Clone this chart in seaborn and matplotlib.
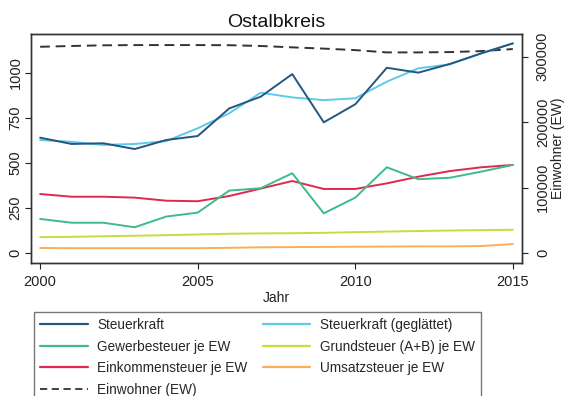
import numpy as np
import pandas as pd
import matplotlib
matplotlib.use("Agg")
import matplotlib.pyplot as plt
from matplotlib.lines import Line2D
import seaborn as sns

years = list(range(2000, 2016))

steuerkraft = [640, 605, 609, 577, 627, 649, 802, 867, 992, 725, 825, 1027, 1000, 1048, 1107, 1162]
steuerkraft_glatt = [627, 617, 600, 605, 621, 692, 775, 889, 863, 848, 858, 950, 1024, 1046, 1107, 1162]
gewerbesteuer = [190, 169, 169, 144, 203, 225, 347, 360, 443, 221, 308, 476, 410, 418, 452, 489]
grundsteuer = [89, 91, 94, 97, 100, 104, 108, 110, 111, 113, 117, 120, 123, 126, 128, 130]
einkommensteuer = [328, 313, 313, 308, 291, 288, 317, 358, 400, 356, 356, 387, 424, 455, 476, 489]
umsatzsteuer = [29, 28, 28, 28, 28, 28, 30, 33, 34, 35, 36, 37, 38, 38, 40, 51]
einwohner = [315300, 316500, 317500, 317900, 317900, 317900, 317700, 316500,
             314400, 312500, 310200, 306700, 306700, 307200, 308700, 311800]

series_names = ["Steuerkraft", "Steuerkraft (geglättet)", "Gewerbesteuer je EW",
                "Grundsteuer (A+B) je EW", "Einkommensteuer je EW", "Umsatzsteuer je EW"]
series_values = [steuerkraft, steuerkraft_glatt, gewerbesteuer,
                 grundsteuer, einkommensteuer, umsatzsteuer]
colors = ["#25567f", "#5ccbea", "#3dbb8e", "#c3df3e", "#e0284f", "#ffab5c"]

# draw order: bottom series first so the tax-power lines sit on top
draw_order = [5, 3, 4, 2, 1, 0]

df = pd.DataFrame({
    "Jahr": years * len(series_names),
    "Wert": sum(series_values, []),
    "Reihe": sum([[n] * len(years) for n in series_names], []),
})
ew = pd.DataFrame({"Jahr": years, "Einwohner": einwohner})

sns.set_theme(style="white")
plt.rcParams["font.family"] = ["Liberation Sans", "DejaVu Sans"]

fig = plt.figure(figsize=(5.64, 3.96), dpi=100)
ax = fig.add_axes([31 / 564, 1 - 263 / 396, (522 - 31) / 564, (263 - 34) / 396])
ax2 = ax.twinx()

sns.lineplot(data=ew, x="Jahr", y="Einwohner", ax=ax2, color="#333333",
             linewidth=1.4, linestyle=(0, (5, 3)), legend=False)

for i in draw_order:
    sub = df[df["Reihe"] == series_names[i]]
    sns.lineplot(data=sub, x="Jahr", y="Wert", ax=ax, color=colors[i],
                 linewidth=1.4, legend=False)

# twin axis drawn behind the main one so the colored lines stay on top
ax.set_zorder(ax2.get_zorder() + 1)
ax.patch.set_visible(False)

ax.set_xlim(1999.71, 2015.29)
ax.set_ylim(-54, 1214)
ax2.set_ylim(-14800, 334800)

ax.set_xticks([2000, 2005, 2010, 2015])
ax.set_yticks([0, 250, 500, 750, 1000])
ax2.set_yticks([0, 100000, 200000, 300000])
ax2.set_yticklabels(["0", "100000", "200000", "300000"])

for a in (ax, ax2):
    for s in a.spines.values():
        s.set_color("#333333")
        s.set_linewidth(1.0)
    a.tick_params(colors="#222222", labelsize=10.5, length=4, width=0.8, direction="out")

ax.tick_params(axis="x", bottom=True, pad=5)
ax.tick_params(axis="y", left=True, pad=2)
ax2.tick_params(axis="y", right=True, pad=6)
for lbl in ax.get_yticklabels():
    lbl.set_rotation(90)
    lbl.set_va("center")
for lbl in ax2.get_yticklabels():
    lbl.set_rotation(90)
    lbl.set_va("center")

ax.set_xlabel("Jahr", fontsize=10, color="#222222", labelpad=1)
ax.set_ylabel("")
ax2.set_ylabel("Einwohner (EW)", fontsize=10, color="#222222", labelpad=1)
ax.set_title("Ostalbkreis", fontsize=14, color="#111111", pad=5)

handles = [Line2D([], [], color=colors[i], linewidth=1.6) for i in range(6)]
handles.append(Line2D([], [], color="#333333", linewidth=1.3, linestyle=(0, (4, 2.5))))
labels = series_names + ["Einwohner (EW)"]

# order rows so that column-major filling gives pairs per row
order = [0, 2, 4, 6, 1, 3, 5]
leg = fig.legend([handles[k] for k in order], [labels[k] for k in order],
                 loc="upper left", bbox_to_anchor=(34 / 564, 1 - 312 / 396),
                 ncol=2, fontsize=9.8, frameon=True, fancybox=False,
                 handlelength=3.5, handletextpad=0.7, columnspacing=1.1,
                 labelspacing=0.55, borderpad=0.45, borderaxespad=0)
leg.get_frame().set_edgecolor("#555555")
leg.get_frame().set_linewidth(1.0)

fig.savefig("out.png", dpi=100)
